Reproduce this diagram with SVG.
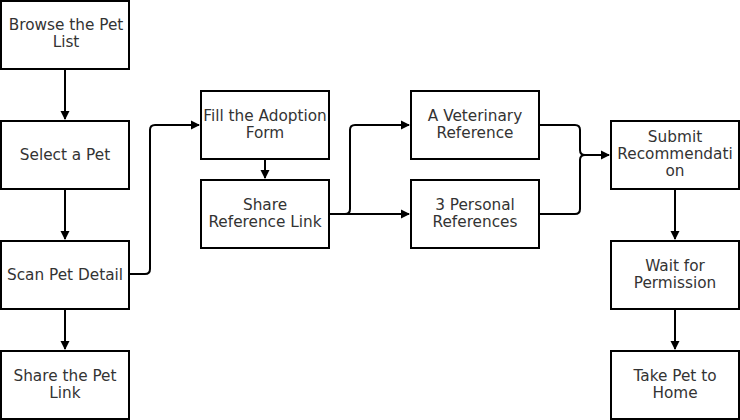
<svg xmlns="http://www.w3.org/2000/svg" width="740" height="420" viewBox="0 0 740 420">
<defs>
<marker id="arr" markerWidth="10" markerHeight="10" refX="8" refY="5" orient="auto" markerUnits="userSpaceOnUse">
<path d="M0,0.5 L9,5 L0,9.5 Z" fill="#000"/>
</marker>
<style>
.box{fill:#fff;stroke:#000;stroke-width:2}
.t{font-family:"DejaVu Sans",sans-serif;font-size:15.3px;fill:#333;text-anchor:middle}
.c{fill:none;stroke:#000;stroke-width:2}
</style>
</defs>
<rect width="740" height="420" fill="#fff"/>
<g id="connectors">
<path class="c" d="M65,69 V119" marker-end="url(#arr)"/>
<path class="c" d="M65,189 V239" marker-end="url(#arr)"/>
<path class="c" d="M65,309 V349" marker-end="url(#arr)"/>
<path class="c" d="M129,274 H145 Q150,274 150,269 V130 Q150,125 155,125 H199" marker-end="url(#arr)"/>
<path class="c" d="M265,159 V178" marker-end="url(#arr)"/>
<path class="c" d="M329,214 H409" marker-end="url(#arr)"/>
<path class="c" d="M345,214 Q350,214 350,209 V130 Q350,125 355,125 H409" marker-end="url(#arr)"/>
<path class="c" d="M539,125 H575 Q580,125 580,130 V150 Q580,155 585,155 H609" marker-end="url(#arr)"/>
<path class="c" d="M539,214 H575 Q580,214 580,209 V160 Q580,155 585,155"/>
<path class="c" d="M675,189 V239" marker-end="url(#arr)"/>
<path class="c" d="M675,309 V349" marker-end="url(#arr)"/>
</g>
<g id="n1"><rect class="box" x="1" y="1" width="128" height="68"/><text class="t" x="66" y="30">Browse the Pet</text><text class="t" x="66" y="47">List</text></g>
<g id="n2"><rect class="box" x="1" y="121" width="128" height="68"/><text class="t" x="65" y="160">Select a Pet</text></g>
<g id="n3"><rect class="box" x="1" y="241" width="128" height="68"/><text class="t" x="65" y="280">Scan Pet Detail</text></g>
<g id="n4"><rect class="box" x="1" y="351" width="128" height="68"/><text class="t" x="65" y="381">Share the Pet</text><text class="t" x="65" y="398">Link</text></g>
<g id="n5"><rect class="box" x="201" y="91" width="128" height="68"/><text class="t" x="265" y="121">Fill the Adoption</text><text class="t" x="265" y="138">Form</text></g>
<g id="n6"><rect class="box" x="201" y="180" width="128" height="68"/><text class="t" x="265" y="210">Share</text><text class="t" x="265" y="227">Reference Link</text></g>
<g id="n7"><rect class="box" x="411" y="91" width="128" height="68"/><text class="t" x="475" y="121">A Veterinary</text><text class="t" x="475" y="138">Reference</text></g>
<g id="n8"><rect class="box" x="411" y="180" width="128" height="68"/><text class="t" x="475" y="210">3 Personal</text><text class="t" x="475" y="227">References</text></g>
<g id="n9"><rect class="box" x="611" y="121" width="128" height="68"/><text class="t" x="675" y="142">Submit</text><text class="t" x="675" y="159">Recommendati</text><text class="t" x="675" y="176">on</text></g>
<g id="n10"><rect class="box" x="611" y="241" width="128" height="68"/><text class="t" x="675" y="271">Wait for</text><text class="t" x="675" y="288">Permission</text></g>
<g id="n11"><rect class="box" x="611" y="351" width="128" height="68"/><text class="t" x="675" y="381">Take Pet to</text><text class="t" x="675" y="398">Home</text></g>
</svg>
